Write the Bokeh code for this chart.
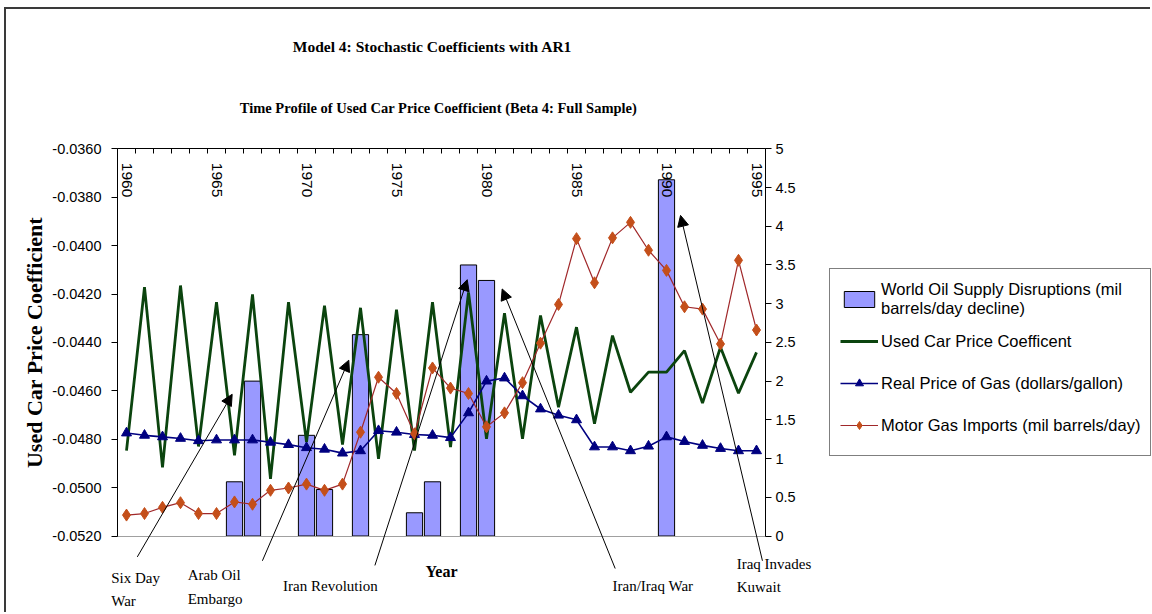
import math
from bokeh.plotting import figure
from bokeh.models import (Range1d, LinearAxis, FixedTicker, NumeralTickFormatter,
                          Legend, LegendItem, Arrow, NormalHead, Label)
from bokeh.core.properties import value
from bokeh.embed import file_html
from bokeh.resources import INLINE

# ---- data -----------------------------------------------------------------
years = list(range(1960, 1996))

used_car_coef = [
    -0.04847, -0.04172, -0.04916, -0.04165, -0.04830, -0.04234, -0.04867, -0.04202,
    -0.04964, -0.04234, -0.04812, -0.04248, -0.04822, -0.04257, -0.04881, -0.04265,
    -0.04847, -0.04234, -0.04833, -0.04193, -0.04798, -0.04279, -0.04798, -0.04289,
    -0.04668, -0.04337, -0.04736, -0.04372, -0.04606, -0.04523, -0.04523, -0.04434,
    -0.04651, -0.04420, -0.04610, -0.04441,
]

real_gas_price = [
    1.33, 1.30, 1.28, 1.26, 1.23, 1.24, 1.24, 1.24, 1.21, 1.18, 1.14, 1.12,
    1.07, 1.10, 1.36, 1.34, 1.31, 1.30, 1.27, 1.59, 2.00, 2.04, 1.81, 1.64,
    1.56, 1.50, 1.15, 1.15, 1.10, 1.16, 1.28, 1.22, 1.17, 1.13, 1.10, 1.10,
]

motor_gas_imports = [
    0.27, 0.29, 0.37, 0.43, 0.29, 0.29, 0.44, 0.41, 0.59, 0.62, 0.67, 0.59,
    0.67, 1.34, 2.05, 1.84, 1.32, 2.17, 1.91, 1.84, 1.41, 1.59, 1.98, 2.49,
    2.99, 3.84, 3.27, 3.85, 4.05, 3.69, 3.43, 2.96, 2.93, 2.48, 3.56, 2.66,
]

disruption_years = [1966, 1967, 1970, 1971, 1973, 1976, 1977, 1979, 1980, 1990]
disruption_mbd = [0.7, 2.0, 1.3, 0.6, 2.6, 0.3, 0.7, 3.5, 3.3, 4.6]

coef_ticks = [-0.0520, -0.0500, -0.0480, -0.0460, -0.0440, -0.0420, -0.0400, -0.0380, -0.0360]
right_ticks = [0, 0.5, 1, 1.5, 2, 2.5, 3, 3.5, 4, 4.5, 5]
labelled_years = [1960, 1965, 1970, 1975, 1980, 1985, 1990, 1995]

# event captions: text lines, caption anchor (year, right-axis units), arrow tail, arrow tip
events = [
    (["Six Day", "War"], (1959.15, -0.54), (1960.6, -0.27), (1965.87, 1.83)),
    (["Arab Oil", "Embargo"], (1963.4, -0.51), (1967.55, -0.32), (1972.35, 2.27)),
    (["Iran Revolution"], (1968.7, -0.64), (1973.8, -0.38), (1978.93, 3.31)),
    (["Iran/Iraq War"], (1987.0, -0.64), (1987.15, -0.42), (1980.87, 3.19)),
    (["Iraq Invades", "Kuwait"], (1993.9, -0.36), (1995.33, -0.32), (1990.78, 4.14)),
]

SERIF = "Liberation Serif"
SANS = "Liberation Sans"

x_lo, x_hi = years[0] - 0.5, years[-1] + 0.5
c_lo, c_hi = coef_ticks[0], coef_ticks[-1]
r_lo, r_hi = right_ticks[0], right_ticks[-1]

# The frame spans the whole canvas so that titles, call-outs and the legend
# can share it; the plotted area itself is fenced by axes that sit at fixed
# positions with bounds.
YEAR_PX = 18.0                 # pixels per year
COEF_PX = 48.4 / 0.002         # pixels per coefficient unit
RIGHT_PX = 77.44               # pixels per right-axis unit
W, H = 1146, 605
LEFT_GAP = 111.0                     # frame edge to plotted area
TOP_GAP, BOTTOM_GAP = 139.3, 78.5

x_start = x_lo - LEFT_GAP / YEAR_PX
p = figure(
    width=W, height=H,
    x_range=Range1d(x_start, x_start + W / YEAR_PX),
    y_range=Range1d(c_lo - BOTTOM_GAP / COEF_PX, c_hi + TOP_GAP / COEF_PX),
    x_axis_location=None, y_axis_location=None,
    output_backend="svg", toolbar_location=None,
    min_border_left=0, min_border_right=0, min_border_top=0, min_border_bottom=0,
    background_fill_color="white", border_fill_color="white",
    outline_line_color=None,
)
p.styles = {"border-top": "2px solid #3a3a3a", "border-left": "2px solid #3a3a3a",
            "margin-left": "4px", "margin-top": "7px"}
p.grid.visible = False
p.extra_y_ranges = {"right": Range1d(r_lo - BOTTOM_GAP / RIGHT_PX, r_hi + TOP_GAP / RIGHT_PX)}

# left: coefficient axis
yl = LinearAxis(fixed_location=x_lo, bounds=(c_lo, c_hi),
                ticker=FixedTicker(ticks=coef_ticks),
                formatter=NumeralTickFormatter(format="0.0000"),
                axis_line_color="black", major_tick_line_color="black",
                major_tick_out=6, major_tick_in=0, minor_tick_line_color=None,
                major_label_standoff=10, major_label_text_font=SANS,
                major_label_text_font_size="14.5px", major_label_text_color="black",
                axis_label="Used Car Price Coefficient", axis_label_text_font=SERIF,
                axis_label_text_font_style="bold", axis_label_text_font_size="22px",
                axis_label_text_color="black", axis_label_standoff=2)
p.add_layout(yl, "left")

# right: million barrels / dollars axis
yr = LinearAxis(y_range_name="right", fixed_location=x_hi, bounds=(r_lo, r_hi),
                ticker=FixedTicker(ticks=right_ticks),
                formatter=NumeralTickFormatter(format="0.[0]"),
                axis_line_color="black", major_tick_line_color="black",
                major_tick_out=6, major_tick_in=0, minor_tick_line_color=None,
                major_label_standoff=4, major_label_text_font=SANS,
                major_label_text_font_size="14.5px", major_label_text_color="black")
p.add_layout(yr, "right")

# top: year category boundaries with inward ticks
top = LinearAxis(fixed_location=c_hi, bounds=(x_lo, x_hi),
                 ticker=FixedTicker(ticks=[y - 0.5 for y in years] + [x_hi]),
                 axis_line_color="black", major_tick_line_color="black",
                 major_tick_in=5, major_tick_out=0, minor_tick_line_color=None,
                 major_label_text_alpha=0)
p.add_layout(top, "above")

# bottom: plain grey baseline carrying the "Year" title
bottom = LinearAxis(fixed_location=c_lo, bounds=(x_lo, x_hi), ticker=FixedTicker(ticks=[]),
                    axis_line_color="#a0a0a0", major_tick_out=0, major_tick_in=0,
                    minor_tick_line_color=None, axis_label="Year",
                    axis_label_text_font=SERIF, axis_label_text_font_style="bold",
                    axis_label_text_font_size="16px", axis_label_text_color="black",
                    axis_label_standoff=26)
p.add_layout(bottom, "below")

# ---- marks ----------------------------------------------------------------
bars = p.vbar(x=disruption_years, top=disruption_mbd, width=0.9, bottom=0,
              y_range_name="right", fill_color="#9999ff", line_color="black", line_width=1)

coef_line = p.line(years, used_car_coef, line_color="#0b440e", line_width=2.8)

gas_line = p.line(years, real_gas_price, y_range_name="right", line_color="#000080", line_width=1.6)
gas_pts = p.scatter(years, real_gas_price, y_range_name="right", marker="triangle", size=10,
                    fill_color="#000080", line_color="#000080")

imp_line = p.line(years, motor_gas_imports, y_range_name="right", line_color="#a0282a", line_width=1.2)
imp_pts = p.scatter(years, motor_gas_imports, y_range_name="right", marker="diamond", size=12,
                    fill_color="#c44f1a", line_color="#c44f1a")

# year labels inside the top of the plot, reading downward
p.text(x=labelled_years, y=[c_hi] * len(labelled_years),
       text=[str(y) for y in labelled_years], angle=-math.pi / 2,
       text_align="left", text_baseline="middle", y_offset=14,
       text_font=value(SANS), text_font_size="15.5px", text_color="black")

# ---- titles ---------------------------------------------------------------
p.add_layout(Label(x=1977.0, y=6.32, y_range_name="right",
                   text="Model 4: Stochastic Coefficients with AR1",
                   text_font=SERIF, text_font_style="bold", text_font_size="15.5px",
                   text_color="black", text_align="center", text_baseline="middle"))
p.add_layout(Label(x=1977.33, y=5.53, y_range_name="right",
                   text="Time Profile of Used Car Price Coefficient (Beta 4: Full Sample)",
                   text_font=SERIF, text_font_style="bold", text_font_size="14.5px",
                   text_color="black", text_align="center", text_baseline="middle"))

# ---- event call-outs ------------------------------------------------------
for lines, (tx, ty), (x0, y0), (x1, y1) in events:
    p.add_layout(Arrow(end=NormalHead(size=11, fill_color="black", line_color="black"),
                       x_start=x0, y_start=y0, x_end=x1, y_end=y1, y_range_name="right",
                       line_color="black", line_width=1))
    for k, line in enumerate(lines):
        p.add_layout(Label(x=tx, y=ty - 0.30 * k, y_range_name="right", text=line,
                           text_font=SERIF, text_font_size="15px", text_color="black",
                           text_align="left", text_baseline="middle"))

# ---- legend ---------------------------------------------------------------
legend = Legend(items=[
    LegendItem(label="World Oil Supply Disruptions (mil\nbarrels/day decline)", renderers=[bars]),
    LegendItem(label="Used Car Price Coefficent", renderers=[coef_line]),
    LegendItem(label="Real Price of Gas (dollars/gallon)", renderers=[gas_line, gas_pts]),
    LegendItem(label="Motor Gas Imports (mil barrels/day)", renderers=[imp_line, imp_pts]),
], location=(823, 158), orientation="vertical",
    border_line_color="black", border_line_width=1, background_fill_color="white",
    background_fill_alpha=1, label_text_font=SANS, label_text_font_size="16.5px",
    label_text_color="black",
    glyph_width=38, glyph_height=20, label_height=40, spacing=2, padding=10, margin=0,
    label_standoff=3)
p.add_layout(legend, "center")

open("out.html", "w").write(file_html(p, INLINE))
